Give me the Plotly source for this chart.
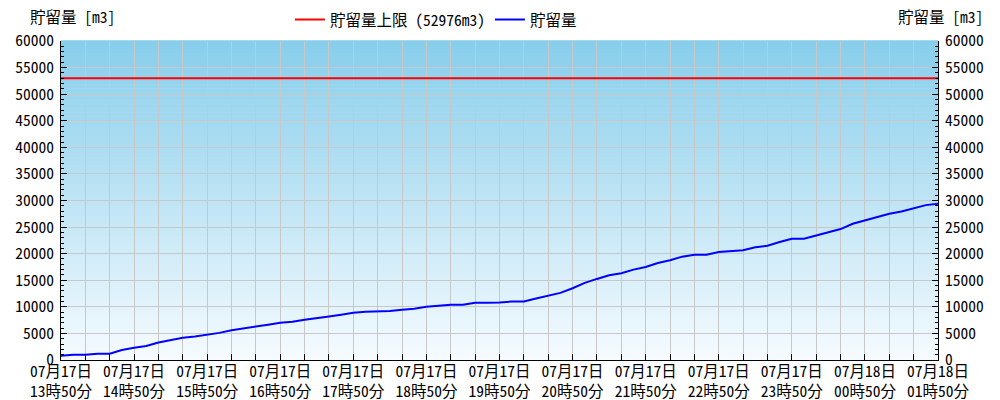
import plotly.graph_objects as go
from datetime import datetime, timedelta

# ---- data ----
start_time = "2024-07-17 13:50"
step_minutes = 10
storage_values = [
    800, 1000, 1000, 1190, 1190, 1880, 2320, 2630, 3300, 3820,
    4200, 4400, 4700, 5100, 5580, 5890, 6210, 6650, 7020, 7200,
    7590, 7960, 8200, 8530, 8900, 9090, 9090, 9200, 9470, 9660,
    10030, 10200, 10410, 10410, 10780, 10780, 10800, 11000, 11000, 11560,
    12130, 12630, 13500, 14500, 15250, 15940, 16310, 17000, 17500, 18250,
    18750, 19440, 19810, 19810, 20310, 20500, 20630, 21190, 21500, 22190,
    22810, 22810, 23380, 24060, 24630, 25630, 26250, 27000, 27500, 27940,
    28560, 29130, 29400,
]
limit_value = 52976
limit_label = "貯留量上限 (52976m3)"
series_label = "貯留量"
axis_title = "貯留量 [m3]"
y_range = [0, 60000]

t0 = datetime.strptime(start_time, "%Y-%m-%d %H:%M")
times = [t0 + timedelta(minutes=step_minutes * i) for i in range(len(storage_values))]
t_end = times[-1]

FONT = "Noto Sans Mono CJK JP, DejaVu Sans Mono, Noto Sans CJK JP, monospace"
FS = 15.5

fig = go.Figure()

fig.add_trace(go.Scatter(
    x=[t0, t_end], y=[limit_value, limit_value], mode="lines",
    line=dict(color="#FF0000", width=2), name=limit_label,
))
fig.add_trace(go.Scatter(
    x=times, y=storage_values, mode="lines",
    line=dict(color="#0000FF", width=2), name=series_label,
))
# invisible trace to carry right axis
fig.add_trace(go.Scatter(
    x=[t0, t_end], y=y_range, mode="lines", yaxis="y2",
    line=dict(width=0), showlegend=False, hoverinfo="skip",
))

# vertical gradient background (style only)
top = (135, 206, 235)
bot = (246, 251, 255)
n = 80
shapes = []
for i in range(n):
    f0 = i / n
    f1 = (i + 1) / n
    fm = (f0 + f1) / 2
    c = tuple(int(round(bot[k] + (top[k] - bot[k]) * fm)) for k in range(3))
    shapes.append(dict(
        type="rect", xref="x domain", yref="y domain",
        x0=0, x1=1, y0=f0, y1=f1 + 0.002,
        fillcolor="rgb(%d,%d,%d)" % c, line=dict(width=0), layer="below",
    ))

grid = "#C8C8C8"
fig.update_layout(
    width=1000, height=400,
    margin=dict(l=61, r=62, t=41, b=40, autoexpand=False),
    paper_bgcolor="white", plot_bgcolor="white",
    font=dict(family=FONT, size=FS, color="#000000"),
    shapes=shapes,
    showlegend=True,
    legend=dict(orientation="h", x=0.261, xanchor="left", y=1.066, yanchor="middle",
                font=dict(size=FS), bgcolor="rgba(0,0,0,0)", itemwidth=30),
    xaxis=dict(
        type="date", range=[t0, t_end], automargin=False,
        tick0=t0, dtick=3600000,
        tickformat="%m月%d日<br>%H時%M分",
        ticks="inside", ticklen=6, tickcolor="#000000",
        showgrid=True, gridcolor=grid, gridwidth=1,
        showline=True, linecolor="#000000", linewidth=1,
        minor=dict(tick0=t0, dtick=1200000, ticks="inside", ticklen=6,
                   tickcolor="#000000", showgrid=True, gridcolor=grid, gridwidth=1),
        tickfont=dict(size=FS), zeroline=False, ticklabelstandoff=-3,
    ),
    yaxis=dict(
        range=y_range, dtick=5000, tickformat="d", automargin=False,
        ticks="inside", ticklen=6, tickcolor="#000000",
        showgrid=True, gridcolor=grid, showline=True, linecolor="#000000",
        minor=dict(dtick=1000, ticks="inside", ticklen=3, tickcolor="#000000", showgrid=False),
        zeroline=False, tickfont=dict(size=FS), ticklabelstandoff=3,
    ),
    yaxis2=dict(
        range=y_range, dtick=5000, tickformat="d", overlaying="y", side="right",
        matches="y", automargin=False,
        ticks="inside", ticklen=6, tickcolor="#000000",
        showgrid=False, showline=True, linecolor="#000000",
        minor=dict(dtick=1000, ticks="inside", ticklen=3, tickcolor="#000000"),
        zeroline=False, tickfont=dict(size=FS), ticklabelstandoff=3,
    ),
    annotations=[
        dict(text=axis_title, xref="paper", yref="paper", x=-0.038, y=1.0,
             xanchor="left", yanchor="bottom", yshift=12, showarrow=False,
             font=dict(size=FS)),
        dict(text=axis_title, xref="paper", yref="paper", x=1.054, y=1.0,
             xanchor="right", yanchor="bottom", yshift=12, showarrow=False,
             font=dict(size=FS)),
    ],
)

fig.write_html("out.html", config={"displayModeBar": False},
               post_script="document.body.style.margin='0';document.body.style.overflow='hidden';")
